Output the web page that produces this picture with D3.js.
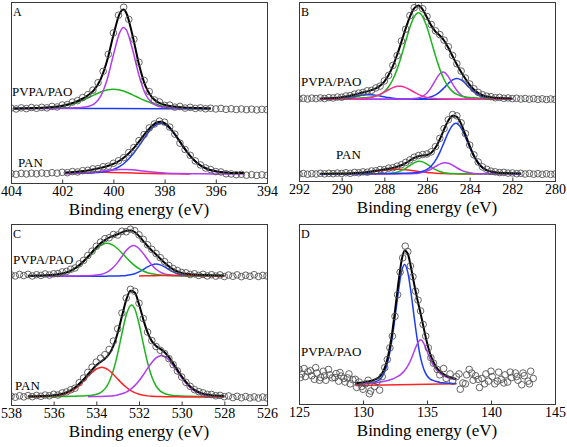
<!DOCTYPE html>
<html><head><meta charset="utf-8">
<script src="https://cdn.jsdelivr.net/npm/d3@7"></script>
<style>
body{margin:0;background:#fff}
svg{display:block;font-family:'Liberation Serif','Times New Roman',Times,'DejaVu Serif',serif}
svg text{font-family:'Liberation Serif','Times New Roman',Times,'DejaVu Serif',serif;fill:#000}
</style>
</head><body>
<svg id="chart" width="567" height="447"></svg>
<script>
// ---------------- DATA ----------------
const A_ticks = [404,402,400,398,396,394];
const B_ticks = [292,290,288,286,284,282,280];
const C_ticks = [538,536,534,532,530,528,526];
const D_ticks = [125,130,135,140,145];
const sampleNames = ["PVPA/PAO","PAN"];
const panelLetters = ["A","B","C","D"];
const axisTitle = "Binding energy (eV)";

// stacking offsets of each spectrum (PVPA/PAO, PAN)
const A_offsets = [40.9, 5.0];
const B_offsets = [45.6, 3.9];
const C_offsets = [71.1, 4.3];
const D_offsets = [10.7];

// ---- Panel A: N 1s ----
const A_energy = [404,403.8,403.6,403.4,403.2,403,402.8,402.6,402.4,402.2,402,401.8,401.6,401.4,401.2,401,400.8,400.6,400.4,400.2,400,399.8,399.6,399.4,399.2,399,398.8,398.6,398.4,398.2,398,397.8,397.6,397.4,397.2,397,396.8,396.6,396.4,396.2,396,395.8,395.6,395.4,395.2,395,394.8,394.6,394.4,394.2,394];
const A_PVPA_counts = [0.5,0.0,0.6,0.2,0.8,0.4,0.9,0.6,1.4,1.1,2.2,2.4,3.8,4.6,6.3,7.9,10.4,14.5,20.8,30.2,42.0,51.8,56.2,49.5,38.5,25.8,15.8,9.6,5.0,3.9,2.0,2.1,1.0,1.4,0.5,0.9,0.3,0.6,0.1,0.4,0.0,0.3,-0.2,0.1,-0.3,0.0,-0.4,-0.1,-0.5,-0.2,-0.4];
const A_PAN_counts = [0.2,-0.2,0.3,0.0,0.4,0.1,0.5,0.2,0.7,0.4,0.9,0.7,1.3,1.1,1.8,2.0,2.8,2.9,4.0,4.3,5.9,7.3,9.0,11.8,14.6,18.4,21.8,25.4,27.6,29.2,28.6,25.9,22.0,17.0,13.5,10.3,7.2,5.0,3.3,2.4,1.3,1.1,0.1,0.0,-0.4,-0.2,-0.7,-0.4,-0.8,-0.5,-0.8];
const A_PVPA_blue = [[403.9,0.4],[400,0.2],[396.2,0.0]];
const A_PVPA_green = [[403.9,0.16],[403.5,0.21],[403.0,0.31],[402.75,0.41],[402.5,0.60],[402.25,0.90],[402.0,1.38],[401.75,2.13],[401.5,3.16],[401.25,4.51],[401.0,6.11],[400.75,7.80],[400.5,9.36],[400.25,10.49],[400.0,10.9],[399.75,10.49],[399.5,9.36],[399.25,7.80],[399.0,6.11],[398.75,4.51],[398.5,3.16],[398.25,2.13],[398.0,1.38],[397.75,0.90],[397.5,0.60],[397.25,0.41],[397.0,0.31],[396.5,0.21],[396.2,0.17]];
const A_PVPA_purple = [[403.9,0.12],[403.5,0.16],[403.0,0.2],[402.5,0.3],[402.0,0.41],[401.5,0.64],[401.25,0.86],[401.0,1.37],[400.75,2.8],[400.5,7.0],[400.25,16.0],[400.0,29.8],[399.75,42.3],[399.6,45],[399.5,43.8],[399.25,32.7],[399.0,18.5],[398.75,8.3],[398.5,3.4],[398.25,1.5],[398.0,0.95],[397.75,0.67],[397.5,0.54],[397.0,0.35],[396.5,0.25],[396.2,0.2]];
const A_PVPA_fit = [[403.9,0.28],[403.5,0.37],[403.0,0.51],[402.75,0.65],[402.5,0.90],[402.25,1.24],[402.0,1.79],[401.75,2.63],[401.5,3.80],[401.25,5.37],[401.0,7.48],[400.75,10.6],[400.5,16.4],[400.25,26.5],[400.0,40.7],[399.75,52.8],[399.6,54.9],[399.5,53.2],[399.25,40.5],[399.0,24.6],[398.75,12.8],[398.5,6.56],[398.25,3.63],[398.0,2.33],[397.75,1.57],[397.5,1.14],[397.25,0.84],[397.0,0.66],[396.5,0.46],[396.2,0.37]];
const A_PAN_blue = [[401.9,0.32],[401.5,0.40],[401.25,0.46],[401.0,0.56],[400.75,0.73],[400.5,1.0],[400.25,1.54],[400.0,2.5],[399.75,4.2],[399.5,6.9],[399.25,10.7],[399.0,15.5],[398.75,20.7],[398.5,25.2],[398.25,27.75],[398.15,28.0],[398.0,27.45],[397.75,24.4],[397.5,19.7],[397.25,14.5],[397.0,9.9],[396.75,6.3],[396.5,3.8],[396.25,2.3],[396.0,1.4],[395.75,0.91],[395.5,0.70],[395.25,0.55],[395.0,0.45],[394.9,0.42]];
const A_PAN_purple = [[401.9,0.14],[401.5,0.27],[401.0,0.68],[400.5,1.43],[400.0,2.2],[399.75,2.45],[399.6,2.5],[399.5,2.48],[399.25,2.3],[399.0,1.95],[398.75,1.52],[398.5,1.1],[398.25,0.75],[398.0,0.48],[397.5,0.2],[397.0,0.09],[396.0,0.04],[394.9,0.02]];
const A_PAN_red = [[401.9,0.30],[401.5,0.47],[401.0,0.72],[400.5,0.88],[400.3,0.9],[400.0,0.86],[399.5,0.67],[399.0,0.42],[398.5,0.22],[398.0,0.11],[397.5,0.05],[397.0,0.02]];
const A_PAN_fit = [[401.9,0.76],[401.5,1.14],[401.25,1.50],[401.0,1.96],[400.75,2.58],[400.5,3.31],[400.25,4.26],[400.0,5.56],[399.75,7.44],[399.5,10.05],[399.25,13.57],[399.0,17.87],[398.75,22.54],[398.5,26.52],[398.25,28.65],[398.15,28.79],[398.0,28.04],[397.75,24.8],[397.5,19.95],[397.25,14.66],[397.0,10.0],[396.75,6.37],[396.5,3.86],[396.25,2.35],[396.0,1.44],[395.75,0.95],[395.5,0.73],[395.25,0.58],[395.0,0.48],[394.9,0.44]];

// ---- Panel B: C 1s ----
const B_energy = [292,291.8,291.6,291.4,291.2,291,290.8,290.6,290.4,290.2,290,289.8,289.6,289.4,289.2,289,288.8,288.6,288.4,288.2,288,287.8,287.6,287.4,287.2,287,286.8,286.6,286.4,286.2,286,285.8,285.6,285.4,285.2,285,284.8,284.6,284.4,284.2,284,283.8,283.6,283.4,283.2,283,282.8,282.6,282.4,282.2,282,281.8,281.6,281.4,281.2,281,280.8,280.6,280.4,280.2,280];
const B_PVPA_counts = [0.3,0.6,0.2,0.7,0.4,0.8,0.5,1.0,0.8,1.3,1.2,1.9,2.1,2.9,3.5,3.9,4.8,5.0,6.4,7.4,10.3,13.4,19.0,24.5,32.6,39.2,46.8,51.2,52.9,50.6,46.3,41.8,38.3,36.2,33.1,29.4,24.5,19.9,15.8,11.9,8.6,5.9,3.9,2.6,1.8,1.5,0.9,1.1,0.6,0.8,0.4,0.6,0.2,0.5,0.1,0.4,0.0,0.3,-0.1,0.2,0.0];
const B_PAN_counts = [0.0,0.3,-0.1,0.2,0.0,0.4,0.1,0.4,0.2,0.5,0.3,0.7,0.4,0.9,0.7,1.2,1.0,1.7,1.8,2.5,2.4,3.3,3.5,4.4,5.2,6.5,7.9,9.4,10.3,10.9,11.2,12.4,15.3,19.9,25.4,30.3,33.2,32.5,28.6,22.6,16.2,10.7,6.7,4.0,2.6,1.6,1.2,0.8,0.9,0.5,0.6,0.2,0.4,0.0,0.3,-0.1,0.2,-0.2,0.1,-0.2,0.0];
const B_PVPA_blue2 = [[291.0,0.07],[290.6,0.14],[290.4,0.22],[290.2,0.34],[290.0,0.54],[289.8,0.82],[289.6,1.20],[289.4,1.63],[289.2,2.06],[289.0,2.42],[288.8,2.59],[288.6,2.53],[288.4,2.26],[288.2,1.85],[288.0,1.41],[287.8,1.0],[287.6,0.67],[287.4,0.42],[287.2,0.27],[287.0,0.17],[286.6,0.08],[286.0,0.04],[282.0,0.02]];
const B_PVPA_blue = [[291.0,0.04],[288.0,0.08],[287.0,0.16],[286.6,0.23],[286.4,0.32],[286.2,0.48],[286.0,0.80],[285.8,1.43],[285.6,2.52],[285.4,4.21],[285.2,6.45],[285.0,8.90],[284.8,10.90],[284.6,11.7],[284.4,10.90],[284.2,8.90],[284.0,6.45],[283.8,4.21],[283.6,2.52],[283.4,1.43],[283.2,0.80],[283.0,0.48],[282.8,0.32],[282.6,0.23],[282.0,0.14]];
const B_PVPA_purple = [[291.0,0.03],[288.6,0.07],[287.6,0.13],[287.0,0.23],[286.6,0.45],[286.4,0.81],[286.2,1.67],[286.0,3.51],[285.8,6.68],[285.6,10.77],[285.4,14.31],[285.25,15.3],[285.2,15.19],[285.0,12.74],[284.8,8.67],[284.6,4.93],[284.4,2.44],[284.2,1.16],[284.0,0.59],[283.8,0.36],[283.6,0.26],[283.0,0.14],[282.0,0.07]];
const B_PVPA_green = [[291.0,0.28],[290.6,0.34],[290.2,0.41],[289.8,0.51],[289.4,0.65],[289.0,0.87],[288.8,1.05],[288.6,1.35],[288.4,1.88],[288.2,2.8],[288.0,4.36],[287.8,7.04],[287.6,11.1],[287.4,16.9],[287.2,24.2],[287.0,32.4],[286.8,40.3],[286.6,46.1],[286.4,48.4],[286.2,46.1],[286.0,40.3],[285.8,32.4],[285.6,24.2],[285.4,16.9],[285.2,11.1],[285.0,7.04],[284.8,4.36],[284.6,2.8],[284.4,1.88],[284.2,1.35],[284.0,1.05],[283.8,0.87],[283.4,0.65],[283.0,0.51],[282.6,0.41],[282.0,0.31]];
const B_PVPA_pink = [[291.0,0.06],[290.0,0.11],[289.4,0.19],[289.0,0.42],[288.8,0.67],[288.6,1.11],[288.4,1.81],[288.2,2.79],[288.0,4.03],[287.8,5.38],[287.6,6.57],[287.4,7.30],[287.3,7.4],[287.2,7.30],[287.0,6.57],[286.8,5.38],[286.6,4.03],[286.4,2.79],[286.2,1.81],[286.0,1.11],[285.8,0.67],[285.6,0.42],[285.2,0.19],[284.6,0.11],[284.0,0.07],[282.0,0.03]];
const B_PVPA_fit = [[291.0,0.48],[290.8,0.56],[290.6,0.64],[290.4,0.76],[290.2,0.94],[290.0,1.21],[289.8,1.57],[289.6,2.04],[289.4,2.60],[289.2,3.20],[289.0,3.85],[288.8,4.46],[288.6,5.14],[288.4,6.11],[288.2,7.61],[288.0,9.98],[287.8,13.63],[287.6,18.58],[287.4,24.91],[287.2,32.1],[287.0,39.53],[286.8,46.29],[286.6,50.89],[286.4,52.38],[286.2,50.11],[286.0,45.76],[285.8,41.2],[285.6,37.9],[285.4,35.7],[285.2,32.9],[285.0,28.8],[284.8,24.1],[284.6,19.5],[284.4,15.3],[284.2,11.5],[284.0,8.16],[283.8,5.51],[283.6,3.58],[283.4,2.33],[283.2,1.59],[283.0,1.18],[282.8,0.93],[282.6,0.78],[282.4,0.69],[282.2,0.61],[282.0,0.55]];
const B_PAN_red = [[291.0,0.05],[290.6,0.06],[290.2,0.10],[290.0,0.12],[289.8,0.17],[289.6,0.23],[289.4,0.33],[289.2,0.47],[289.0,0.65],[288.8,0.87],[288.6,1.15],[288.4,1.46],[288.2,1.79],[288.0,2.1],[287.8,2.36],[287.6,2.54],[287.4,2.6],[287.2,2.54],[287.0,2.36],[286.8,2.1],[286.6,1.79],[286.4,1.46],[286.2,1.15],[286.0,0.87],[285.8,0.65],[285.6,0.47],[285.4,0.33],[285.2,0.23],[285.0,0.17],[284.8,0.12],[284.6,0.10],[284.2,0.06],[283.6,0.05],[281.6,0.02]];
const B_PAN_green = [[291.0,0.03],[289.0,0.06],[288.6,0.09],[288.2,0.14],[288.0,0.20],[287.8,0.31],[287.6,0.55],[287.4,1.03],[287.2,1.89],[287.0,3.17],[286.8,4.76],[286.6,6.25],[286.4,7.07],[286.35,7.1],[286.2,6.77],[286.0,5.54],[285.8,3.94],[285.6,2.49],[285.4,1.41],[285.2,0.75],[285.0,0.40],[284.8,0.24],[284.6,0.17],[284.4,0.12],[284.0,0.085],[283.0,0.05],[281.6,0.03]];
const B_PAN_purple = [[291.0,0.02],[289.0,0.03],[287.6,0.07],[287.0,0.13],[286.8,0.18],[286.6,0.27],[286.4,0.49],[286.2,0.92],[286.0,1.68],[285.8,2.82],[285.6,4.22],[285.4,5.54],[285.2,6.27],[285.15,6.3],[285.0,6.0],[284.8,4.9],[284.6,3.5],[284.4,2.2],[284.2,1.25],[284.0,0.67],[283.8,0.36],[283.6,0.21],[283.4,0.15],[283.0,0.09],[282.0,0.04],[281.6,0.03]];
const B_PAN_blue = [[291.0,0.06],[290.0,0.09],[289.0,0.13],[288.0,0.22],[287.6,0.28],[287.4,0.32],[287.2,0.37],[287.0,0.44],[286.8,0.53],[286.6,0.68],[286.4,0.95],[286.2,1.50],[286.0,2.55],[285.8,4.5],[285.6,7.6],[285.4,12.1],[285.2,17.7],[285.0,23.3],[284.8,27.3],[284.65,28.3],[284.6,28.2],[284.4,25.6],[284.2,20.6],[284.0,14.9],[283.8,9.7],[283.6,5.9],[283.4,3.4],[283.2,1.95],[283.0,1.19],[282.8,0.80],[282.6,0.59],[282.4,0.48],[282.2,0.40],[282.0,0.35],[281.6,0.27]];
const B_PAN_fit = [[291.0,0.16],[290.6,0.20],[290.2,0.26],[290.0,0.27],[289.8,0.34],[289.6,0.42],[289.4,0.52],[289.2,0.67],[289.0,0.87],[288.8,1.12],[288.6,1.43],[288.4,1.79],[288.2,2.18],[288.0,2.57],[287.8,2.98],[287.6,3.44],[287.4,4.04],[287.2,4.91],[287.0,6.10],[286.8,7.57],[286.6,8.99],[286.4,9.97],[286.2,10.34],[286.0,10.64],[285.8,11.91],[285.6,14.78],[285.4,19.38],[285.2,24.95],[285.0,29.87],[284.8,32.56],[284.6,31.97],[284.4,28.0],[284.2,22.0],[284.0,15.7],[283.8,10.18],[283.6,6.22],[283.4,3.65],[283.2,2.15],[283.0,1.37],[282.8,0.95],[282.6,0.72],[282.4,0.60],[282.2,0.52],[282.0,0.44],[281.6,0.35]];

// ---- Panel C: O 1s ----
const C_energy = [538,537.8,537.6,537.4,537.2,537,536.8,536.6,536.4,536.2,536,535.8,535.6,535.4,535.2,535,534.8,534.6,534.4,534.2,534,533.8,533.6,533.4,533.2,533,532.8,532.6,532.4,532.2,532,531.8,531.6,531.4,531.2,531,530.8,530.6,530.4,530.2,530,529.8,529.6,529.4,529.2,529,528.8,528.6,528.4,528.2,528,527.8,527.6,527.4,527.2,527,526.8,526.6,526.4,526.2,526];
const C_PVPA_counts = [0.8,0.2,1.0,0.4,1.1,0.2,0.9,0.5,1.3,0.7,1.4,1.5,2.4,2.7,3.9,4.6,6.9,8.8,11.5,13.9,16.6,18.9,20.8,21.3,23.1,22.8,24.9,24.6,26.0,25.2,22.9,20.4,17.4,14.9,12.6,10.3,8.1,6.0,4.3,3.2,2.1,1.9,1.0,1.4,0.5,1.1,0.2,0.9,0.1,0.8,-0.1,0.7,0.0,0.8,-0.2,0.6,0.0,0.9,-0.1,0.5,0.2];
const C_PAN_counts = [0.6,0.0,0.8,0.2,0.9,0.3,1.0,0.5,1.2,0.8,1.6,1.2,2.4,2.9,4.1,5.0,8.0,10.6,13.7,16.6,19.4,21.6,23.5,26.4,31.0,37.8,46.5,54.8,59.6,58.5,51.9,43.5,36.0,31.3,28.0,25.9,24.1,21.3,18.0,14.5,11.2,8.2,6.0,4.2,3.1,2.4,1.6,1.5,0.8,1.0,0.3,0.7,-0.2,0.5,-0.3,0.4,-0.4,0.2,-0.5,0.1,-0.4];
const C_PVPA_blue = [[537.2,0.02],[535.0,0.04],[533.8,0.08],[533.4,0.12],[533.2,0.14],[533.0,0.18],[532.8,0.28],[532.6,0.46],[532.4,0.83],[532.2,1.46],[532.0,2.45],[531.8,3.75],[531.6,5.17],[531.4,6.34],[531.2,6.8],[531.0,6.34],[530.8,5.17],[530.6,3.75],[530.4,2.45],[530.2,1.46],[530.0,0.83],[529.8,0.46],[529.6,0.28],[529.4,0.18],[529.2,0.14],[529.0,0.12],[528.6,0.08],[528.0,0.05]];
const C_PVPA_purple = [[537.2,0.07],[536.6,0.09],[536.0,0.11],[535.6,0.14],[535.2,0.18],[534.8,0.24],[534.4,0.35],[534.2,0.46],[534.0,0.66],[533.8,1.03],[533.6,1.76],[533.4,3.03],[533.2,4.98],[533.0,7.7],[532.8,10.96],[532.6,14.2],[532.4,16.4],[532.25,17.0],[532.2,16.93],[532.0,15.4],[531.8,12.6],[531.6,9.3],[531.4,6.27],[531.2,3.9],[531.0,2.3],[530.8,1.36],[530.6,0.81],[530.4,0.54],[530.2,0.40],[530.0,0.31],[529.8,0.26],[529.4,0.19],[529.0,0.15],[528.6,0.12],[528.0,0.09]];
const C_PVPA_green = [[537.2,0.25],[537.0,0.28],[536.8,0.32],[536.6,0.37],[536.4,0.44],[536.2,0.54],[536.0,0.70],[535.8,0.97],[535.6,1.37],[535.4,1.99],[535.2,2.91],[535.0,4.2],[534.8,5.89],[534.6,7.98],[534.4,10.37],[534.2,12.88],[534.0,15.24],[533.8,17.1],[533.6,18.16],[533.5,18.3],[533.4,18.16],[533.2,17.1],[533.0,15.24],[532.8,12.88],[532.6,10.37],[532.4,7.98],[532.2,5.89],[532.0,4.2],[531.8,2.91],[531.6,1.99],[531.4,1.37],[531.2,0.97],[531.0,0.70],[530.8,0.54],[530.6,0.44],[530.4,0.37],[530.2,0.32],[530.0,0.28],[529.6,0.23],[529.2,0.19],[528.8,0.16],[528.0,0.12]];
const C_PVPA_red = [[532.0,0.2],[531.5,0.3],[531.0,0.4],[530.5,0.5],[530.0,0.48],[529.5,0.42],[529.0,0.33],[528.5,0.22],[528.0,0.15]];
const C_PVPA_fit = [[537.2,0.34],[537.0,0.37],[536.8,0.42],[536.6,0.49],[536.4,0.56],[536.2,0.67],[536.0,0.84],[535.8,1.12],[535.6,1.54],[535.4,2.18],[535.2,3.13],[535.0,4.44],[534.8,6.18],[534.6,8.31],[534.4,10.78],[534.2,13.4],[534.0,15.97],[533.8,18.21],[533.6,20.02],[533.4,21.4],[533.2,22.32],[533.0,23.22],[532.8,24.24],[532.6,25.17],[532.4,25.37],[532.2,24.46],[532.0,22.25],[531.8,19.49],[531.6,16.73],[531.4,14.28],[531.2,12.02],[531.0,9.74],[530.8,7.52],[530.6,5.48],[530.4,3.86],[530.2,2.68],[530.0,1.9],[529.8,1.44],[529.6,1.18],[529.4,0.98],[529.2,0.86],[529.0,0.78],[528.6,0.6],[528.0,0.41]];
const C_PAN_green = [[537.2,0.17],[536.8,0.19],[536.4,0.23],[536.0,0.29],[535.6,0.37],[535.2,0.47],[535.0,0.54],[534.8,0.63],[534.6,0.74],[534.4,0.9],[534.2,1.12],[534.0,1.63],[533.8,2.6],[533.6,4.6],[533.4,8.4],[533.2,14.9],[533.0,24.1],[532.8,35.2],[532.6,45.3],[532.4,50.7],[532.35,51],[532.2,48.9],[532.0,40.6],[531.8,29.6],[531.6,19.2],[531.4,11.3],[531.2,6.2],[531.0,3.4],[530.8,2.04],[530.6,1.33],[530.4,0.99],[530.2,0.8],[530.0,0.69],[529.6,0.5],[529.2,0.4],[528.8,0.31],[528.4,0.25],[528.0,0.2]];
const C_PAN_red = [[537.2,0.21],[537.0,0.25],[536.8,0.28],[536.6,0.31],[536.4,0.38],[536.2,0.48],[536.0,0.63],[535.8,0.91],[535.6,1.35],[535.4,2.05],[535.2,3.1],[535.0,4.6],[534.8,6.55],[534.6,8.84],[534.4,11.39],[534.2,13.74],[534.0,15.58],[533.8,16.47],[533.75,16.5],[533.6,16.15],[533.4,14.77],[533.2,12.59],[533.0,10.1],[532.8,7.66],[532.6,5.51],[532.4,3.8],[532.2,2.5],[532.0,1.65],[531.8,1.09],[531.6,0.74],[531.4,0.54],[531.2,0.42],[531.0,0.35],[530.8,0.29],[530.4,0.23],[530.0,0.18],[529.6,0.15],[529.2,0.13],[528.8,0.11],[528.4,0.09],[528.0,0.08]];
const C_PAN_purple = [[534.4,0.3],[534.0,0.39],[533.8,0.44],[533.6,0.53],[533.4,0.67],[533.2,0.87],[533.0,1.27],[532.8,1.89],[532.6,2.85],[532.4,4.3],[532.2,6.4],[532.0,9.1],[531.8,12.3],[531.6,15.9],[531.4,19.15],[531.2,21.7],[531.0,22.95],[530.95,23],[530.8,22.5],[530.6,20.6],[530.4,17.5],[530.2,14.1],[530.0,10.7],[529.8,7.7],[529.6,5.3],[529.4,3.5],[529.2,2.3],[529.0,1.52],[528.8,1.04],[528.6,0.75],[528.4,0.59],[528.2,0.48],[528.0,0.41]];
const C_PAN_fit = [[537.2,0.47],[537.0,0.53],[536.8,0.58],[536.6,0.64],[536.4,0.74],[536.2,0.87],[536.0,1.06],[535.8,1.39],[535.6,1.89],[535.4,2.65],[535.2,3.77],[535.0,5.36],[534.8,7.42],[534.6,9.85],[534.4,12.59],[534.2,15.2],[534.0,17.6],[533.8,19.51],[533.6,21.28],[533.4,23.84],[533.2,28.36],[533.0,35.47],[532.8,44.75],[532.6,53.66],[532.4,58.8],[532.2,57.8],[532.0,51.35],[531.8,42.99],[531.6,35.84],[531.4,30.99],[531.2,28.32],[531.0,26.7],[530.8,24.83],[530.6,22.19],[530.4,18.72],[530.2,15.1],[530.0,11.57],[529.8,8.47],[529.6,5.95],[529.4,4.09],[529.2,2.83],[529.0,2.0],[528.8,1.46],[528.6,1.13],[528.4,0.93],[528.2,0.79],[528.0,0.69]];

// ---- Panel D: P 2p ----
const D_energy = [125.0,125.2,125.5,125.7,126.0,126.2,126.4,126.7,126.9,127.1,127.4,127.6,127.9,128.1,128.3,128.6,128.8,129.0,129.2,129.5,129.7,130.0,130.2,130.4,130.6,130.9,131.1,131.3,131.5,131.7,131.9,132.1,132.3,132.5,132.7,132.9,133.1,133.3,133.5,133.7,133.9,134.1,134.3,134.5,134.7,134.9,135.1,135.3,135.5,135.8,136.0,136.3,136.5,136.8,137.0,137.3,137.6,137.8,138.1,138.3,138.6,138.8,139.1,139.3,139.6,139.8,140.1,140.3,140.6,140.8,141.1,141.3,141.6,141.9,142.1,142.4,142.6,142.9,143.1,143.3,125.1,125.4,125.9,126.3,126.6,127.0,127.3,127.8,128.2,128.5,128.9,129.4,129.9,130.5,137.5,138.0,138.5,139.0,139.5,140.0,140.5,141.0,141.5,142.0,142.5,143.0];
const D_PVPA_counts = [8.5,6.0,4.5,7.2,5.0,3.0,6.5,4.0,7.5,2.5,5.5,3.8,6.2,2.0,4.8,1.5,3.8,0.5,2.8,-1.5,1.5,-2.5,0.5,2.5,-3.5,-1.0,1.8,-3.0,4.5,9.5,14.0,20.5,27.0,38.0,50.0,62.5,70.5,77.0,74.0,66.0,60.0,52.0,47.0,41.0,33.5,27.0,20.5,15.0,12.0,8.5,5.5,9.0,3.5,6.0,2.0,4.5,-2.5,1.0,5.5,8.5,2.5,5.0,-1.5,3.5,6.0,2.0,4.5,0.5,7.0,3.0,5.5,1.5,4.0,6.5,2.5,0.0,5.0,2.0,7.5,3.5,4.0,9.0,7.8,9.5,2.5,5.0,8.5,4.0,6.8,3.5,6.0,3.0,-1.0,-5.0,6.0,0.5,6.5,3.0,0.5,7.5,2.0,1.0,7.0,4.5,6.5,0.5];
const D_fitEnergy = [129.4,129.5,129.75,130,130.25,130.5,130.75,131,131.25,131.5,131.75,132,132.25,132.5,132.75,133,133.25,133.5,133.75,134,134.25,134.5,134.75,135,135.25,135.5,135.75,136,136.25,136.5,136.75,137,137.3];
const D_PVPA_blue = [0.18,0.21,0.34,0.48,0.64,0.84,1.17,1.7,2.63,4.56,8.2,14.6,24.4,37.2,51.0,62.4,66.8,62.4,51.2,37.4,24.6,14.95,8.6,5.0,3.15,2.3,1.8,1.3,1.1,0.95,0.85,0.75,0.7];
const D_PVPA_purple = [0.27,0.30,0.41,0.53,0.66,0.81,0.97,1.18,1.41,1.70,2.05,2.49,3.06,3.79,4.73,6.06,7.89,10.5,14.05,18.6,22.9,24.95,23.0,18.7,14.25,10.8,8.2,6.45,5.2,4.3,3.64,3.13,2.7];
const D_PVPA_fit = [0.85,0.90,1.11,1.33,1.59,1.91,2.37,3.08,4.21,6.4,10.35,17.2,27.5,41.0,55.7,68.4,74.6,72.8,65.1,55.8,47.3,39.65,31.3,23.4,17.05,12.7,9.6,7.55,6.1,5.1,4.34,3.73,3.25];
const D_PVPA_red = [[129.4,-0.4],[137.3,0.6]];

// ---------------- STYLE ----------------
const COLORS = {fit:"#000000", purple:"#b23cf2", green:"#1db41d", blue:"#1e3cf0", red:"#ff2424", pink:"#ff2a9a"};
const FONT = "'Liberation Serif','Times New Roman',Times,'DejaVu Serif',serif";

// ---------------- BUILD CONFIG ----------------
const pairs = (xs, ys) => xs.map((x,i)=>[x, ys[i]]);
const panels = [
  {letter:panelLetters[0], x0:11, x1:267, y0:2, y1:183, domain:[404,394], ticks:A_ticks,
   series:[
     {offset:A_offsets[0], energy:A_energy, counts:A_PVPA_counts,
      comps:[[A_PVPA_blue,"blue"],[A_PVPA_green,"green"],[A_PVPA_purple,"purple"],[A_PVPA_fit,"fit"]]},
     {offset:A_offsets[1], energy:A_energy, counts:A_PAN_counts,
      comps:[[A_PAN_red,"red"],[A_PAN_blue,"blue"],[A_PAN_purple,"purple"],[A_PAN_fit,"fit"]]}],
   labels:[[sampleNames[0],12,96],[sampleNames[1],18,167]]},
  {letter:panelLetters[1], x0:299, x1:555, y0:2, y1:181, domain:[292,280], ticks:B_ticks,
   series:[
     {offset:B_offsets[0], energy:B_energy, counts:B_PVPA_counts,
      comps:[[B_PVPA_blue2,"blue"],[B_PVPA_blue,"blue"],[B_PVPA_purple,"purple"],[B_PVPA_green,"green"],[B_PVPA_pink,"pink"],[B_PVPA_fit,"fit"]]},
     {offset:B_offsets[1], energy:B_energy, counts:B_PAN_counts,
      comps:[[B_PAN_red,"red"],[B_PAN_green,"green"],[B_PAN_purple,"purple"],[B_PAN_blue,"blue"],[B_PAN_fit,"fit"]]}],
   labels:[[sampleNames[0],301,86],[sampleNames[1],336,159]]},
  {letter:panelLetters[2], x0:11, x1:267, y0:224, y1:405, domain:[538,526], ticks:C_ticks,
   series:[
     {offset:C_offsets[0], energy:C_energy, counts:C_PVPA_counts,
      comps:[[C_PVPA_blue,"blue"],[C_PVPA_purple,"purple"],[C_PVPA_green,"green"],[C_PVPA_red,"red"],[C_PVPA_fit,"fit"]]},
     {offset:C_offsets[1], energy:C_energy, counts:C_PAN_counts,
      comps:[[C_PAN_green,"green"],[C_PAN_red,"red"],[C_PAN_purple,"purple"],[C_PAN_fit,"fit"]]}],
   labels:[[sampleNames[0],13,264],[sampleNames[1],15,390]]},
  {letter:panelLetters[3], x0:299, x1:555, y0:224, y1:404, domain:[125,145], ticks:D_ticks,
   series:[
     {offset:D_offsets[0], energy:D_energy, counts:D_PVPA_counts,
      comps:[[D_PVPA_red,"red"],[pairs(D_fitEnergy,D_PVPA_blue),"blue"],[pairs(D_fitEnergy,D_PVPA_purple),"purple"],[pairs(D_fitEnergy,D_PVPA_fit),"fit"]]}],
   labels:[[sampleNames[0],301,356]]}
];

// ---------------- DRAW ----------------
const svg = d3.select("#chart").style("font-family", FONT);
const defs = svg.append("defs");

panels.forEach((p, pi) => {
  const x = d3.scaleLinear().domain(p.domain).range([p.x0, p.x1]);
  const y = d3.scaleLinear().domain([0, 100]).range([p.y1, p.y0]);
  const g = svg.append("g");
  const clipId = "clip" + pi;
  defs.append("clipPath").attr("id", clipId).append("rect")
    .attr("x", p.x0).attr("y", p.y0).attr("width", p.x1 - p.x0).attr("height", p.y1 - p.y0);
  const plot = g.append("g").attr("clip-path", `url(#${clipId})`);

  p.series.forEach(s => {
    const line = d3.line().x(d => x(d[0])).y(d => y(s.offset + d[1])).curve(d3.curveMonotoneX);
    s.comps.forEach(([data, key]) => {
      plot.append("path").datum(data).attr("d", line)
        .attr("fill", "none").attr("stroke", COLORS[key])
        .attr("stroke-width", key === "fit" ? 2.0 : 1.5)
        .attr("stroke-linejoin", "round");
    });
    plot.append("g").selectAll("circle").data(pairs(s.energy, s.counts)).join("circle")
      .attr("cx", d => x(d[0])).attr("cy", d => y(s.offset + d[1])).attr("r", 3.3)
      .attr("fill", "none").attr("stroke", "#555").attr("stroke-width", 0.9);
  });

  // frame
  g.append("rect").attr("x", p.x0 + 0.5).attr("y", p.y0 + 0.5)
    .attr("width", p.x1 - p.x0).attr("height", p.y1 - p.y0)
    .attr("fill", "none").attr("stroke", "#3a3a3a").attr("stroke-width", 1);

  // axis
  const axis = d3.axisBottom(x).tickValues(p.ticks).tickSizeInner(-4).tickSizeOuter(0)
    .tickPadding(3).tickFormat(d3.format("d"));
  const ag = g.append("g").attr("transform", `translate(0,${p.y1 + 0.5})`).call(axis);
  ag.attr("font-family", null).attr("font-size", null);
  ag.select(".domain").remove();
  ag.selectAll(".tick line").attr("stroke", "#3a3a3a");
  ag.selectAll(".tick text").style("font-family", FONT).style("font-size", "14px").attr("fill", "#000");

  // axis title
  g.append("text").attr("x", (p.x0 + p.x1) / 2).attr("y", p.y1 + 32)
    .attr("text-anchor", "middle").style("font-family", FONT).style("font-size", "17px").text(axisTitle);

  // panel letter
  g.append("text").attr("x", p.x0 + 2).attr("y", p.y0 + 14)
    .style("font-family", FONT).style("font-size", "12px").text(p.letter);

  // sample labels
  p.labels.forEach(([t, lx, ly]) => {
    g.append("text").attr("x", lx).attr("y", ly)
      .style("font-family", FONT).style("font-size", "13px").text(t);
  });
});
</script>
</body></html>
